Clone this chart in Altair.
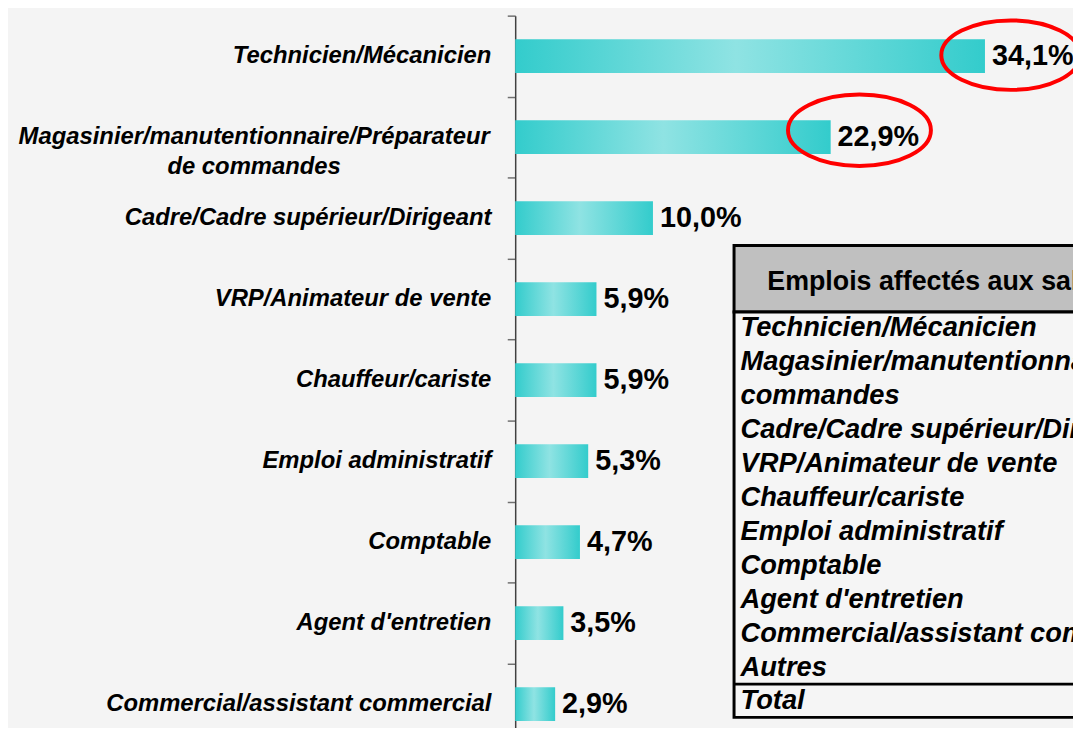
import altair as alt
import pandas as pd

FONT = "Liberation Sans"

categories = [
    "Technicien/Mécanicien",
    "Magasinier/manutentionnaire/Préparateur|de commandes",
    "Cadre/Cadre supérieur/Dirigeant",
    "VRP/Animateur de vente",
    "Chauffeur/cariste",
    "Emploi administratif",
    "Comptable",
    "Agent d'entretien",
    "Commercial/assistant commercial",
]
values = [34.1, 22.9, 10.0, 5.9, 5.9, 5.3, 4.7, 3.5, 2.9]
value_labels = ["34,1%", "22,9%", "10,0%", "5,9%", "5,9%", "5,3%", "4,7%", "3,5%", "2,9%"]
highlighted = categories[:2]

table_title = ["Emplois affectés aux salariés"]
table_lines = [
    "Technicien/Mécanicien",
    "Magasinier/manutentionnaire/Préparateur de",
    "commandes",
    "Cadre/Cadre supérieur/Dirigeant",
    "VRP/Animateur de vente",
    "Chauffeur/cariste",
    "Emploi administratif",
    "Comptable",
    "Agent d'entretien",
    "Commercial/assistant commercial",
    "Autres",
    "Total",
]

df = pd.DataFrame({"cat": categories, "val": values, "lab": value_labels})

yscale = alt.Scale(domain=categories, range=[0, 734.4], paddingInner=0.583, paddingOuter=0.2915)
xscale = alt.Scale(domain=[0, 40.49], nice=False, zero=True)

gradient = alt.Gradient(
    gradient="linear",
    stops=[
        alt.GradientStop(color="#33CCCC", offset=0),
        alt.GradientStop(color="#8FE3E3", offset=0.47),
        alt.GradientStop(color="#33CCCC", offset=1),
    ],
    x1=0, x2=1, y1=0, y2=0,
)

yaxis = alt.Axis(
    title=None,
    orient="left",
    grid=False,
    domain=True,
    domainColor="#404040",
    domainWidth=1.5,
    ticks=True,
    tickOffset=-40.8,
    tickSize=8,
    tickColor="#707070",
    tickWidth=1.5,
    labels=False,
)

base = alt.Chart(df)
Y = dict(field="cat", type="nominal", scale=yscale, sort=categories)

bars = base.mark_bar(color=gradient).encode(
    x=alt.X("val:Q", scale=xscale, axis=None),
    y=alt.Y(axis=yaxis, **Y),
)

cat_style = dict(font=FONT, fontSize=24, fontWeight="bold", fontStyle="italic", color="black", baseline="middle")

cat_single = base.transform_filter("indexof(datum.cat, '|') < 0").mark_text(
    align="right", **cat_style
).encode(x=alt.value(-24), y=alt.Y(axis=None, **Y), text="cat:N")

cat_wrapped = base.transform_filter("indexof(datum.cat, '|') >= 0").mark_text(
    align="center", lineBreak="|", lineHeight=30, **cat_style
).encode(x=alt.value(-263), y=alt.Y(axis=None, **Y), text="cat:N")

labels = base.mark_text(
    align="left", baseline="middle", dx=7, font=FONT, fontSize=29,
    fontWeight="bold", color="black",
).encode(
    x=alt.X("val:Q", scale=xscale, axis=None),
    y=alt.Y(axis=None, **Y),
    text="lab:N",
)

ELLIPSE = "M -1 0 A 1 0.5 0 1 1 1 0 A 1 0.5 0 1 1 -1 0 Z"

ell1 = base.transform_filter(alt.FieldEqualPredicate(field="cat", equal=highlighted[0])).mark_point(
    shape=ELLIPSE, size=19600, filled=False, color="#FF0000", strokeWidth=4, opacity=1,
    xOffset=26, yOffset=-1,
).encode(
    x=alt.X("val:Q", scale=xscale, axis=None),
    y=alt.Y(axis=None, **Y),
)
ell2 = base.transform_filter(alt.FieldEqualPredicate(field="cat", equal=highlighted[1])).mark_point(
    shape=ELLIPSE, size=20736, filled=False, color="#FF0000", strokeWidth=4, opacity=1,
    xOffset=29, yOffset=-7,
).encode(
    x=alt.X("val:Q", scale=xscale, axis=None),
    y=alt.Y(axis=None, **Y),
)

title_df = pd.DataFrame({"t": table_title})
hdr = alt.Chart(title_df).mark_rect(fill="#C0C0C0", stroke="black", strokeWidth=3).encode(
    x=alt.value(220.5), x2=alt.value(800), y=alt.value(231.5), y2=alt.value(298.5)
)
body = alt.Chart(title_df).mark_rect(fill="#F5F5F5", stroke="black", strokeWidth=3).encode(
    x=alt.value(220.5), x2=alt.value(800), y=alt.value(298.5), y2=alt.value(707)
)
sep = alt.Chart(title_df).mark_rule(color="black", strokeWidth=3).encode(
    x=alt.value(220.5), x2=alt.value(800), y=alt.value(673.5)
)
hdr_text = alt.Chart(title_df).mark_text(
    align="left", baseline="alphabetic", font=FONT, fontSize=27, fontWeight="bold", color="black"
).encode(x=alt.value(254), y=alt.value(276), text="t:N")

tbl_text = alt.Chart(pd.DataFrame({"line": table_lines})).mark_text(
    align="left", baseline="alphabetic", font=FONT, fontSize=27.5, fontWeight="bold",
    fontStyle="italic", color="black",
).encode(
    x=alt.value(227),
    y=alt.Y("line:N", scale=alt.Scale(type="point", domain=table_lines, range=[323, 699], padding=0), axis=None),
    text="line:N",
)

chart = alt.layer(
    bars, cat_single, cat_wrapped, labels, hdr, body, sep, hdr_text, tbl_text, ell1, ell2
).resolve_scale(y="independent").properties(
    width=562,
    height=715,
    padding={"left": 511, "top": 5, "right": 0, "bottom": 0},
    autosize=alt.AutoSizeParams(type="none"),
    background="#F4F4F4",
).configure_view(stroke=None)

chart.save("out.html", embed_options={"renderer": "svg", "actions": False})
